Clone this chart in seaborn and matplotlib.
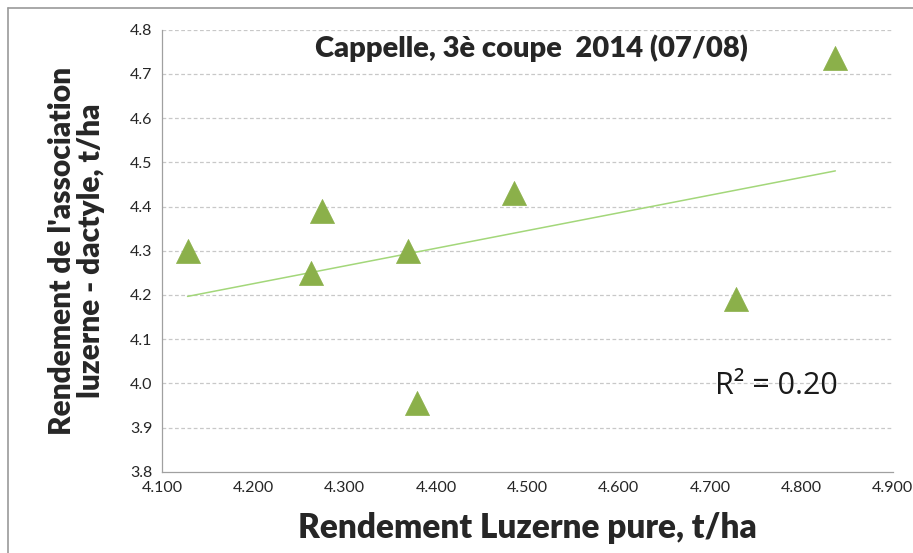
import numpy as np
import pandas as pd
import seaborn as sns
import matplotlib.pyplot as plt
from matplotlib.lines import Line2D

# valeurs
luzerne_pure = [4.128, 4.263, 4.275, 4.369, 4.379, 4.485, 4.728, 4.837]
association = [4.30, 4.25, 4.39, 4.30, 3.955, 4.43, 4.19, 4.735]
x_ticks = [4.1, 4.2, 4.3, 4.4, 4.5, 4.6, 4.7, 4.8, 4.9]
y_ticks = [3.8, 3.9, 4.0, 4.1, 4.2, 4.3, 4.4, 4.5, 4.6, 4.7, 4.8]

titre = "Cappelle, 3è coupe  2014 (07/08)"
r2_label = "R² = 0.20"

df = pd.DataFrame({"x": luzerne_pure, "y": association})

sns.set_style("white")
plt.rcParams['font.family'] = ['Lato', 'DejaVu Sans']

fig = plt.figure(figsize=(9.13, 5.53), dpi=100)
ax = fig.add_axes([0.1774, 0.147, 0.8006, 0.7993])

# grille horizontale en pointillés
for v in y_ticks[1:]:
    ax.axhline(v, color="#c8c8c8", linestyle=(0, (3, 2)), linewidth=0.9, zorder=0)

# droite de tendance
sns.regplot(data=df, x="x", y="y", scatter=False, ci=None, ax=ax,
            line_kws={"color": "#a3d77a", "linewidth": 1.1, "zorder": 2})

sns.scatterplot(data=df, x="x", y="y", ax=ax, marker="^", s=300,
                color="#8bb04a", edgecolor="#8bb04a", linewidth=0.5, zorder=3)

ax.set_xlim(4.1, 4.9)
ax.set_ylim(3.8, 4.8)
ax.set_xticks(x_ticks)
ax.set_xticklabels([f"{v:.3f}" for v in x_ticks])
ax.set_yticks(y_ticks)
ax.set_yticklabels([f"{v:.1f}" for v in y_ticks])
ax.tick_params(axis="both", labelsize=11.5, length=4, width=0.8, color="#a0a0a0",
               direction="out", pad=3, labelcolor="#262626")

for s in ["top", "right"]:
    ax.spines[s].set_visible(False)
for s in ["left", "bottom"]:
    ax.spines[s].set_color("#a0a0a0")
    ax.spines[s].set_linewidth(0.9)

ax.set_xlabel("Rendement Luzerne pure, t/ha", fontsize=24, fontweight="heavy", labelpad=12)
ax.set_ylabel("Rendement de l'association\nluzerne - dactyle, t/ha", fontsize=21.5,
              fontweight="heavy", labelpad=18, linespacing=1.05)

ax.text(0.505, 0.99, titre, transform=ax.transAxes, ha="center", va="top",
        fontsize=21, fontweight="heavy")
ax.text(0.841, 0.195, r2_label, transform=ax.transAxes, ha="center", va="center",
        fontsize=22, color="#1a1a1a", family=["Open Sans", "DejaVu Sans"])

# cadre de la zone de graphique
fig.add_artist(Line2D([8 / 913, 8 / 913], [0, 1 - 8 / 553], color="#9a9a9a", linewidth=1.2))
fig.add_artist(Line2D([8 / 913, 1], [1 - 8 / 553, 1 - 8 / 553], color="#9a9a9a", linewidth=1.2))

fig.savefig("out.png", dpi=100)
